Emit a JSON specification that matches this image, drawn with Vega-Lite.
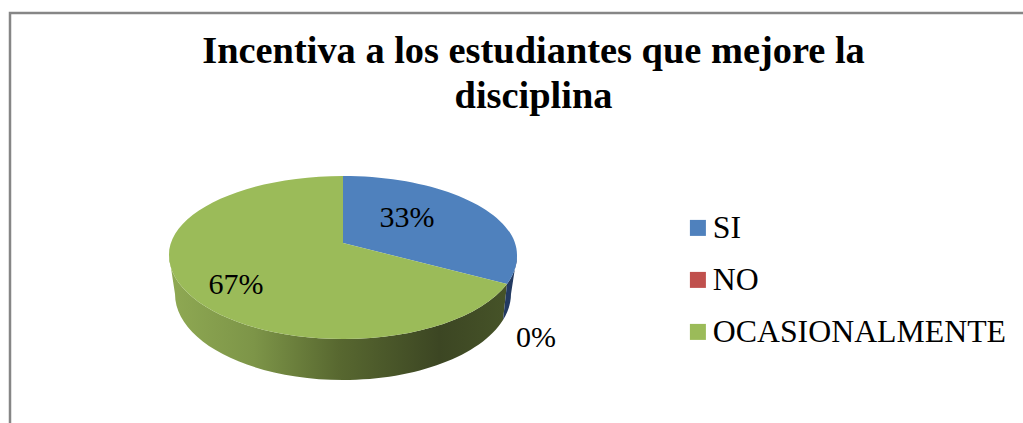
{
  "$schema": "https://vega.github.io/schema/vega-lite/v6.json",
  "width": 1030,
  "height": 430,
  "autosize": "none",
  "padding": {"left": 10, "top": 13, "right": 0, "bottom": 0},
  "background": "white",
  "view": {"stroke": "#868686", "strokeWidth": 2.5, "fill": null},
  "title": {
    "text": ["Incentiva a los estudiantes que mejore la", "disciplina"],
    "font": "Liberation Serif",
    "fontSize": 38.4,
    "fontWeight": "bold",
    "color": "black",
    "lineHeight": 45,
    "anchor": "middle",
    "frame": "group",
    "baseline": "alphabetic",
    "offset": 0,
    "dx": 8.5,
    "dy": 133
  },
  "data": {
    "values": [
      {"respuesta": "SI", "valor": 0.33},
      {"respuesta": "NO", "valor": 0},
      {"respuesta": "OCASIONALMENTE", "valor": 0.67}
    ]
  },
  "encoding": {
    "x": {"datum": 333, "type": "quantitative", "scale": {"domain": [0, 1030]}, "axis": null},
    "y": {"datum": 230, "type": "quantitative", "scale": {"domain": [0, 430], "reverse": true}, "axis": null},
    "color": {
      "field": "respuesta", "type": "nominal",
      "scale": {
        "domain": ["SI", "NO", "OCASIONALMENTE"],
        "range": ["#4f81bd", "#c0504d", "#9bbb59"]
      },
      "legend": {
        "title": null,
        "orient": "none",
        "legendX": 672,
        "legendY": 199,
        "symbolType": "square",
        "symbolSize": 256,
        "symbolStrokeWidth": 0,
        "labelFont": "Liberation Serif",
        "labelFontSize": 31.8,
        "labelColor": "black",
        "labelLimit": 400,
        "labelOffset": -1,
        "rowPadding": 19
      }
    }
  },
  "layer": [
    {
      "mark": {"type": "point", "filled": true, "opacity": 1, "size": 0}
    },
    {
      "transform": [{"filter": "datum.respuesta === 'OCASIONALMENTE'"}],
      "mark": {
        "type": "point", "filled": true, "opacity": 1, "size": 4,
        "shape": "M164,41 A174,84 0 0 1 0,96 A174,84 0 0 1 -174,12 L-168,51 A168,86 0 0 0 0,137 A168,86 0 0 0 160,77 Z",
        "fill": {
          "gradient": "linear", "x1": 0, "x2": 1, "y1": 0, "y2": 0,
          "stops": [
            {"offset": 0, "color": "#8fa953"},
            {"offset": 0.25, "color": "#7d9548"},
            {"offset": 0.5, "color": "#586830"},
            {"offset": 0.8, "color": "#3c4623"},
            {"offset": 1, "color": "#465328"}
          ]
        }
      },
      "encoding": {"color": {"value": null}}
    },
    {
      "transform": [{"filter": "datum.respuesta === 'SI'"}],
      "mark": {
        "type": "point", "filled": true, "opacity": 1, "size": 4,
        "shape": "M174,12 A174,84 0 0 1 164,41 L160,77 A168,86 0 0 0 168,51 Z",
        "fill": "#233a61"
      },
      "encoding": {"color": {"value": null}}
    },
    {
      "transform": [{"filter": "datum.respuesta === 'SI'"}],
      "mark": {
        "type": "point", "filled": true, "opacity": 1, "size": 4,
        "shape": "M0,0 L0,-67 A174,79 0 0 1 174,12 A174,84 0 0 1 164,41 Z",
        "fill": "#4f81bd"
      },
      "encoding": {"color": {"value": null}}
    },
    {
      "transform": [{"filter": "datum.respuesta === 'OCASIONALMENTE'"}],
      "mark": {
        "type": "point", "filled": true, "opacity": 1, "size": 4,
        "shape": "M0,0 L164,41 A174,84 0 0 1 0,96 A174,84 0 0 1 -174,12 A174,79 0 0 1 0,-67 Z",
        "fill": "#9bbb59"
      },
      "encoding": {"color": {"value": null}}
    },
    {
      "transform": [{"filter": "datum.respuesta === 'SI'"}],
      "mark": {"type": "text", "font": "Liberation Serif", "fontSize": 30, "baseline": "alphabetic", "fill": "black"},
      "encoding": {
        "color": {"value": "black"},
        "x": {"datum": 397, "type": "quantitative"},
        "y": {"datum": 214, "type": "quantitative"},
        "text": {"field": "valor", "type": "quantitative", "format": ".0%"}
      }
    },
    {
      "transform": [{"filter": "datum.respuesta === 'NO'"}],
      "mark": {"type": "text", "font": "Liberation Serif", "fontSize": 30, "baseline": "alphabetic", "fill": "black"},
      "encoding": {
        "color": {"value": "black"},
        "x": {"datum": 526, "type": "quantitative"},
        "y": {"datum": 334, "type": "quantitative"},
        "text": {"field": "valor", "type": "quantitative", "format": ".0%"}
      }
    },
    {
      "transform": [{"filter": "datum.respuesta === 'OCASIONALMENTE'"}],
      "mark": {"type": "text", "font": "Liberation Serif", "fontSize": 30, "baseline": "alphabetic", "fill": "black"},
      "encoding": {
        "color": {"value": "black"},
        "x": {"datum": 226, "type": "quantitative"},
        "y": {"datum": 281, "type": "quantitative"},
        "text": {"field": "valor", "type": "quantitative", "format": ".0%"}
      }
    }
  ]
}
